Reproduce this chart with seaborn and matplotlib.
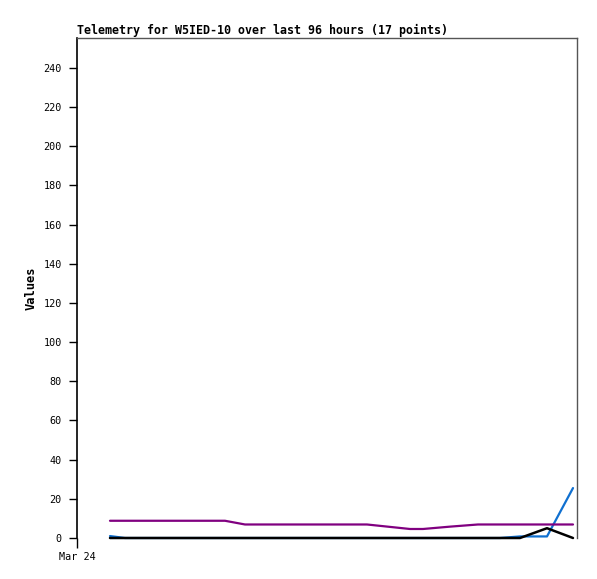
# Telemetry chart for W5IED-10
import pandas as pd
import matplotlib.pyplot as plt
import matplotlib.dates as mdates
import seaborn as sns

# hours after Mar 24 00:00 for each of the 17 points
hours = [6.6, 9.6, 16.6, 23.6, 29.6, 33.6, 42.6, 50.6, 58.0,
         66.6, 69.2, 74.6, 80.2, 84.6, 88.6, 94.0, 99.2]
purple_vals = [8.8, 8.8, 8.8, 8.8, 8.8, 6.9, 6.9, 6.9, 6.9,
               4.6, 4.6, 5.8, 6.9, 6.9, 6.9, 6.9, 6.9]
blue_vals = [1, 0, 0, 0, 0, 0, 0, 0, 0,
             0, 0, 0, 0, 0, 0.8, 0.8, 25.5]
black_vals = [0, 0, 0, 0, 0, 0, 0, 0, 0,
              0, 0, 0, 0, 0, 0, 5, 0]
y_ticks = list(range(0, 241, 20))

start = pd.Timestamp('2024-03-24 00:00')
df = pd.DataFrame({
    'time': start + pd.to_timedelta(hours, unit='h'),
    'purple': purple_vals,
    'blue': blue_vals,
    'black': black_vals,
})

sns.set_style('white')
plt.rcParams['font.family'] = ['DejaVu Sans Mono']
plt.rcParams['text.color'] = 'black'
plt.rcParams['axes.labelcolor'] = 'black'
plt.rcParams['xtick.color'] = 'black'
plt.rcParams['ytick.color'] = 'black'

fig = plt.figure(figsize=(5.97, 5.79), dpi=100)
ax = fig.add_axes([77 / 597, 41 / 579, 500 / 597, 500 / 579])

sns.lineplot(data=df, x='time', y='blue', color='#1070d0', linewidth=1.6, ax=ax)
sns.lineplot(data=df, x='time', y='black', color='black', linewidth=1.8, ax=ax)
sns.lineplot(data=df, x='time', y='purple', color='#800080', linewidth=1.6, ax=ax)
for line in ax.lines:
    line.set_clip_on(False)

ax.set_ylim(0, 255.3)
ax.set_xlim(start, start + pd.Timedelta(hours=100))
ax.set_yticks(y_ticks)
ax.set_xticks([mdates.date2num(start)])
ax.set_xticklabels(['Mar 24'])
ax.tick_params(axis='y', direction='out', length=6, width=1,
               labelsize=7.3, left=True, pad=5)
ax.tick_params(axis='x', direction='out', length=7, width=1,
               labelsize=7.3, bottom=True, pad=3)

ax.spines['bottom'].set_visible(False)
ax.spines['left'].set_color('black')
ax.spines['left'].set_linewidth(1.2)
for side in ['top', 'right']:
    ax.spines[side].set_color('#555555')
    ax.spines[side].set_linewidth(1)

ax.set_xlabel('')
ax.set_ylabel('Values', fontsize=8.7, fontweight='bold', labelpad=4)
ax.set_title('Telemetry for W5IED-10 over last 96 hours (17 points)',
             loc='left', fontsize=8.4, fontweight='bold', pad=3)

plt.savefig('out.png', dpi=100)
